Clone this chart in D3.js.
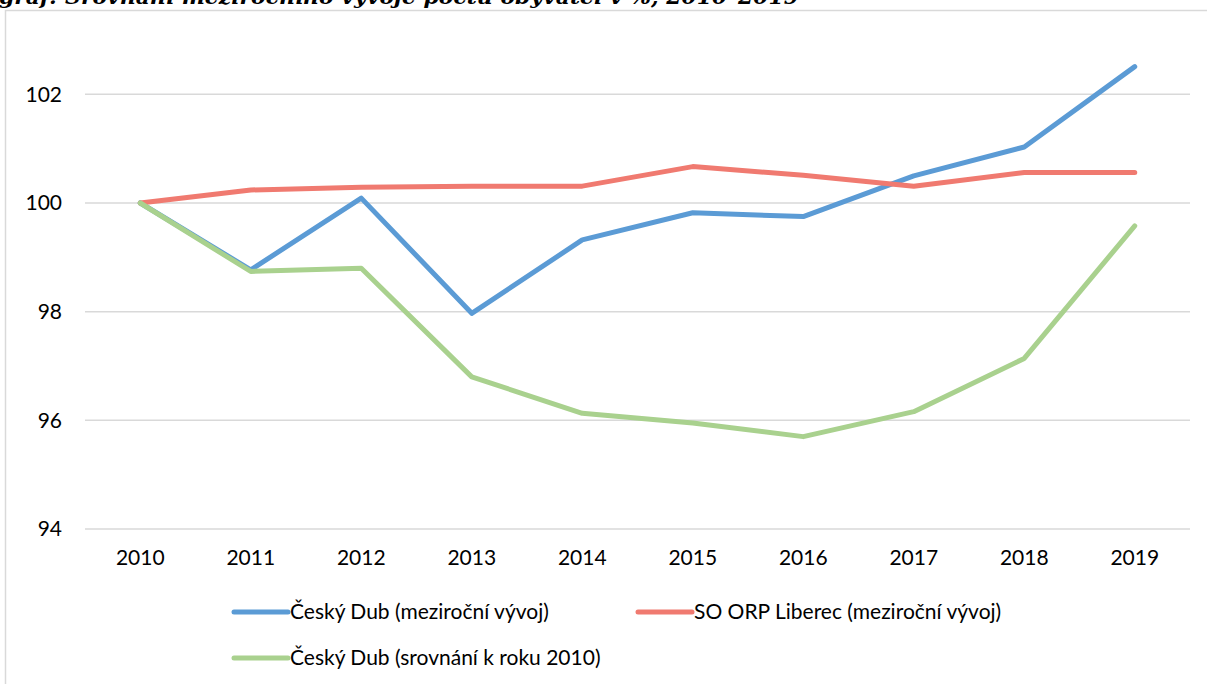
<!DOCTYPE html>
<html>
<head>
<meta charset="utf-8">
<script src="https://cdn.jsdelivr.net/npm/d3@7.9.0/dist/d3.min.js"></script>
<style>
  html, body { margin: 0; background: #fff; overflow: hidden; }
  svg { display: block; }
</style>
</head>
<body>
<svg id="chart" width="1207" height="684"></svg>
<script>
// data
const years = ['2010', '2011', '2012', '2013', '2014', '2015', '2016', '2017', '2018', '2019'];
const dubYoY = [100, 98.77, 100.09, 97.97, 99.32, 99.82, 99.75, 100.5, 101.03, 102.51];
const liberecYoY = [100, 100.24, 100.29, 100.31, 100.31, 100.67, 100.51, 100.31, 100.56, 100.56];
const dub2010 = [100, 98.74, 98.8, 96.8, 96.13, 95.95, 95.7, 96.16, 97.14, 99.58];
const yTicks = [94, 96, 98, 100, 102];

const series = [
  { name: 'Český Dub (meziroční vývoj)', values: dubYoY, color: '#5b9bd5' },
  { name: 'SO ORP Liberec (meziroční vývoj)', values: liberecYoY, color: '#f07a70' },
  { name: 'Český Dub (srovnání k roku 2010)', values: dub2010, color: '#a9d18e' }
];

const svg = d3.select('#chart');
const font = 'Lato, "Open Sans", sans-serif';
const fontSize = 21;

// title, clipped at the top like in the original
svg.append('text')
  .attr('x', -1)
  .attr('y', 4)
  .attr('font-family', '"DejaVu Serif", serif')
  .attr('font-style', 'italic')
  .attr('font-weight', 'bold')
  .attr('font-size', 21)
  .attr('textLength', 800)
  .attr('lengthAdjust', 'spacingAndGlyphs')
  .attr('fill', '#000')
  .text('graf: Srovnání meziročního vývoje počtu obyvatel v %, 2010–2019');

// chart frame
svg.append('rect')
  .attr('x', 5.5).attr('y', 10.5)
  .attr('width', 1230).attr('height', 700)
  .attr('fill', 'none')
  .attr('stroke', '#d9d9d9')
  .attr('stroke-width', 1.5);

const x = d3.scaleBand().domain(years).range([85, 1190]);
const y = d3.scaleLinear().domain([94, 103]).range([529, 40]);

// gridlines
svg.append('g')
  .selectAll('line')
  .data(yTicks)
  .join('line')
  .attr('x1', 85).attr('x2', 1190)
  .attr('y1', d => y(d)).attr('y2', d => y(d))
  .attr('stroke', '#d9d9d9')
  .attr('stroke-width', 1.5);

// y axis labels
const yAxis = svg.append('g')
  .attr('transform', 'translate(62,0)')
  .call(d3.axisLeft(y).tickValues(yTicks).tickSize(0).tickPadding(0));
yAxis.select('.domain').remove();
yAxis.selectAll('text')
  .attr('font-family', font)
  .attr('font-size', fontSize)
  .attr('fill', '#000');

// x axis labels
const xAxis = svg.append('g')
  .attr('transform', 'translate(0,550)')
  .call(d3.axisBottom(x).tickSize(0).tickPadding(0));
xAxis.select('.domain').remove();
xAxis.selectAll('text')
  .attr('font-family', font)
  .attr('font-size', fontSize)
  .attr('fill', '#000');

const line = d3.line()
  .x((d, i) => x(years[i]) + x.bandwidth() / 2)
  .y(d => y(d));

svg.append('g')
  .selectAll('path')
  .data(series)
  .join('path')
  .attr('d', d => line(d.values))
  .attr('fill', 'none')
  .attr('stroke', d => d.color)
  .attr('stroke-width', 5)
  .attr('stroke-linecap', 'round')
  .attr('stroke-linejoin', 'round');

// legend
const legendPos = [[232, 612], [636, 612], [232, 658]];
const legend = svg.append('g')
  .selectAll('g')
  .data(series)
  .join('g')
  .attr('transform', (d, i) => `translate(${legendPos[i][0]},${legendPos[i][1]})`);

legend.append('line')
  .attr('x1', 2).attr('x2', 56)
  .attr('y1', 0).attr('y2', 0)
  .attr('stroke', d => d.color)
  .attr('stroke-width', 5)
  .attr('stroke-linecap', 'round');

legend.append('text')
  .attr('x', 58)
  .attr('y', 0)
  .attr('dy', '0.35em')
  .attr('font-family', font)
  .attr('font-size', fontSize)
  .attr('fill', '#000')
  .text(d => d.name);
</script>
</body>
</html>
